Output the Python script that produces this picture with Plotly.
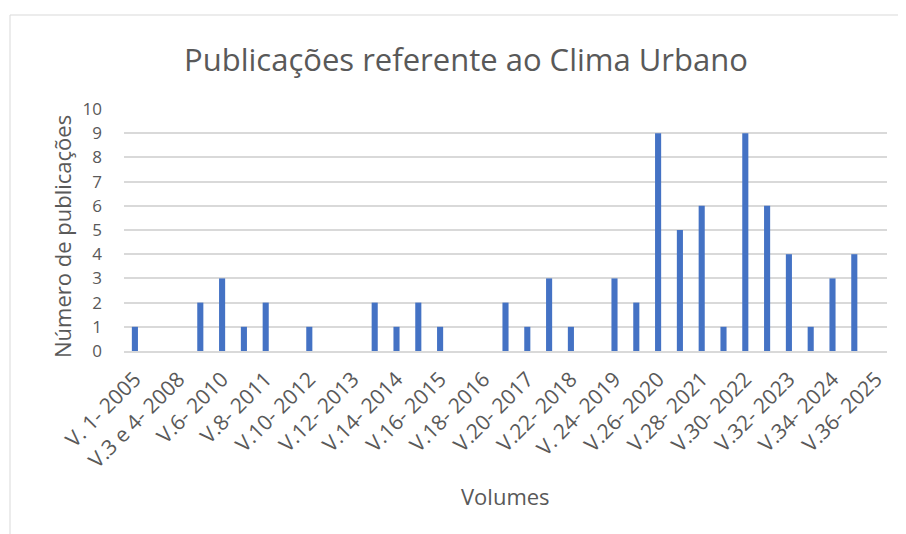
import plotly.graph_objects as go

# volumes da revista (categorias) e número de publicações sobre clima urbano
volumes = [
    "V. 1- 2005", "V.2- 2006", "V.3 e 4- 2008", "V.5- 2009", "V.6- 2010",
    "V.7- 2010", "V.8- 2011", "V.9- 2011", "V.10- 2012", "V.11- 2012",
    "V.12- 2013", "V.13- 2013", "V.14- 2014", "V.15- 2014", "V.16- 2015",
    "V.17- 2015", "V.18- 2016", "V.19- 2016", "V.20- 2017", "V.21- 2017",
    "V.22- 2018", "V.23- 2018", "V. 24- 2019", "V.25- 2019", "V.26- 2020",
    "V.27- 2020", "V.28- 2021", "V.29- 2021", "V.30- 2022", "V.31- 2022",
    "V.32- 2023", "V.33- 2023", "V.34- 2024", "V.35- 2024", "V.36- 2025",
]
publicacoes = [1, 0, 0, 2, 3, 1, 2, 0, 1, 0, 0, 2, 1, 2, 1, 0, 0, 2, 1, 3,
               1, 0, 3, 2, 9, 5, 6, 1, 9, 6, 4, 1, 3, 4, 0]
# Excel mostra só um rótulo a cada dois volumes
rotulos = volumes[::2]

FONT = "Open Sans"
GRAY = "#595959"
GRID = "#D9D9D9"

# the page body has an 8px margin, so the figure is a bit smaller than the window
OFF = 8
W, H = 906 - OFF, 534 - OFF
L, R, T, B = 124 - OFF, 19, 109 - OFF, 183

fig = go.Figure()
fig.add_trace(go.Bar(x=volumes, y=publicacoes, marker_color="#4472C4",
                     marker_line_width=0, width=0.28))

# helpers: window pixel -> paper coords
def px_x(px):
    return (px - OFF - L) / (W - L - R)

def px_y(py):
    return (H - B - (py - OFF)) / (H - T - B)

fig.update_layout(
    width=W, height=H,
    margin=dict(l=L, r=R, t=T, b=B),
    plot_bgcolor="white", paper_bgcolor="white",
    font=dict(family=FONT, color=GRAY),
    showlegend=False,
    title=dict(text="Publicações referente ao Clima Urbano",
               x=(466 - OFF) / W, xanchor="center", xref="container",
               y=1 - (60 - OFF) / H, yanchor="middle", yref="container",
               font=dict(size=31, color=GRAY, family=FONT)),
    xaxis=dict(type="category", tickmode="array", tickvals=rotulos,
               ticktext=rotulos, tickangle=-45, showgrid=False,
               tickfont=dict(size=21, color=GRAY), ticks="",
               ticklabelstandoff=6,
               showline=True, linecolor=GRID, linewidth=1.5),
    yaxis=dict(range=[0, 10], dtick=1, showgrid=True, gridcolor=GRID,
               gridwidth=1.5, zeroline=False, ticks="",
               tickfont=dict(size=17, color=GRAY), ticklabelstandoff=21),
    annotations=[
        dict(text="Número de publicações", textangle=-90,
             x=px_x(62), y=px_y(237), xref="paper", yref="paper",
             xanchor="center", yanchor="middle",
             showarrow=False, font=dict(size=22, color=GRAY)),
        dict(text="Volumes", x=px_x(505), y=px_y(496),
             xref="paper", yref="paper", xanchor="center", yanchor="middle",
             showarrow=False, font=dict(size=22, color=GRAY)),
    ],
    shapes=[dict(type="rect", xref="paper", yref="paper",
                 x0=px_x(10), x1=px_x(912), y0=px_y(540), y1=px_y(15),
                 line=dict(color=GRID, width=1), layer="below")],
)

fig.write_html("out.html")
